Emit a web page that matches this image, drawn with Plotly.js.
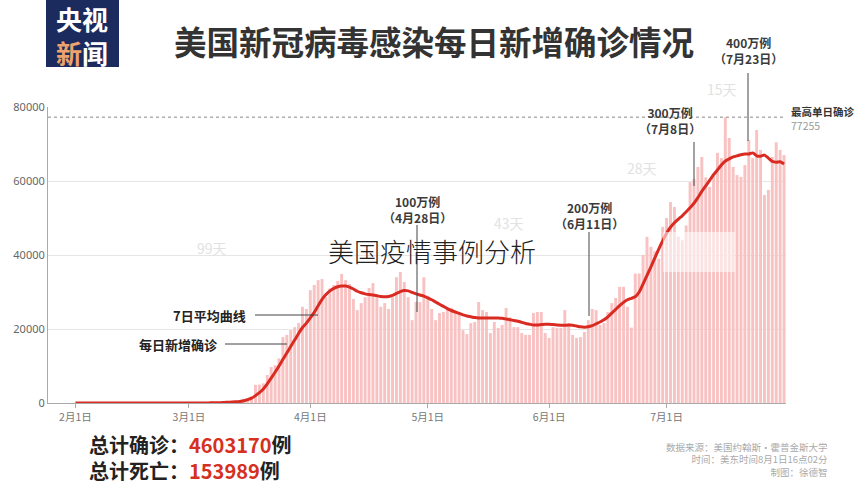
<!DOCTYPE html>
<html>
<head>
<meta charset="utf-8">
<script src="https://cdn.plot.ly/plotly-3.0.1.min.js"></script>
<style>
html,body{margin:0;padding:0;background:#fff;}
#chart{width:863px;height:490px;}
</style>
</head>
<body>
<div id="chart"></div>
<script>
// ---- Data ----
const startDate = "2020-02-01";
// daily new confirmed cases, by month
const casesFeb = [1,0,3,0,1,0,0,0,0,1,1,0,1,0,0,0,0,0,0,0,2,0,0,0,0,3,1,1,7];
const casesMar = [10,20,25,30,60,50,110,100,70,290,330,400,550,600,800,1200,1700,4900,5000,5300,7600,9700,10200,12100,17800,18400,19700,20500,21600,26000,25400];
const casesApr = [30500,31900,33200,33500,28600,31000,31900,33000,34900,33200,32200,28100,25100,27000,28600,31100,32400,28600,26000,27000,25400,28600,34000,35400,32700,28600,22400,27300,27300,34000];
const casesMay = [29000,25400,22400,24300,24600,25700,25700,24600,24600,19700,18600,21600,21900,27300,25100,24600,18900,21900,20300,21100,25700,23200,20500,20500,18900,18400,18400,24300,24600,24600,18900];
const casesJun = [17600,20500,20300,20300,25100,21600,18400,17600,17800,19200,22400,25400,25100,21100,21600,24600,27000,28400,31400,31400,26000,20400,35000,35000,40000,44900,42200,41000,39000,47600];
const casesJul = [50000,54300,53000,45000,44000,48000,59700,60500,63800,66500,61000,58400,61500,67600,66200,77255,71600,63800,61600,61100,64300,71100,66200,73800,68400,56200,57600,66500,70500,68400,67000];
// 7-day average curve, by month
const avgFeb = [0,0,1,1,1,1,0,0,0,0,0,0,0,0,0,0,0,0,0,0,1,1,1,1,1,1,1,2,3];
const avgMar = [5,8,12,17,25,32,45,58,70,150,200,260,320,420,600,900,1300,2000,2800,3800,5200,6700,8300,10000,11800,13500,15300,17000,18800,20400,21600];
const avgApr = [23000,24500,26300,28000,29300,30300,31000,31400,31600,31600,31300,30800,30200,29800,29500,29300,29200,29000,28800,28700,28800,29100,29600,30100,30400,30300,29900,29500,29200,28900];
const avgMay = [28400,27900,27300,26700,26100,25500,25000,24600,24200,23800,23500,23300,23100,23000,23000,23000,23000,23000,23000,22900,22700,22500,22300,22100,21800,21500,21300,21100,21100,21200,21300];
const avgJun = [21300,21200,21100,21000,21000,21100,21000,20800,20600,20500,20600,20900,21400,21900,22500,23300,24300,25300,26300,27200,27900,28300,28700,30000,32200,34500,36800,39200,41600,43800];
const avgJul = [45900,47500,48700,49700,50600,51700,52800,54000,55500,57200,58700,60200,61700,63000,64300,65400,66000,66500,66800,67100,67300,67300,67600,66800,66700,67000,66200,65300,65100,65200,64600];
const maxDaily = 77255;
const tickDates = ["2020-02-01","2020-03-01","2020-04-01","2020-05-01","2020-06-01","2020-07-01"];
const tickLabels = ["2月1日","3月1日","4月1日","5月1日","6月1日","7月1日"];
const yTicks = [0,20000,40000,60000,80000];
const milestoneLabels = ["100万例","200万例","300万例","400万例"];
const milestoneDates = ["（4月28日）","（6月11日）","（7月8日）","（7月23日）"];
const gapLabels = ["99天","43天","28天","15天"];
const totalCases = "4603170";
const totalDeaths = "153989";

// ---- Build ----
const cases = [].concat(casesFeb,casesMar,casesApr,casesMay,casesJun,casesJul);
const avg = [].concat(avgFeb,avgMar,avgApr,avgMay,avgJun,avgJul);
const dates = [];
const d0 = new Date(startDate+"T00:00:00Z");
for (let i=0;i<cases.length;i++){
  const d = new Date(d0.getTime()+i*86400000);
  dates.push(d.toISOString().slice(0,10));
}

const FONT = "'Noto Sans CJK SC','Noto Sans',sans-serif";
const L=48, R=77, T=107, B=87, W=863, H=490;
const PW=W-L-R, PH=H-T-B;
const px = x => (x-L)/PW;
const py = y => (H-B-y)/PH;

function ann(text,x,y,opt){
  return Object.assign({text:text,x:px(x),y:py(y),xref:'paper',yref:'paper',showarrow:false,
    xanchor:'center',yanchor:'middle',font:{family:FONT,size:12,color:'#333'}},opt||{});
}
function vline(x,y0,y1,color){
  return {type:'line',xref:'paper',yref:'paper',x0:px(x),x1:px(x),y0:py(y0),y1:py(y1),line:{color:color||'#444',width:1}};
}
function hline(x0,x1,y,color){
  return {type:'line',xref:'paper',yref:'paper',x0:px(x0),x1:px(x1),y0:py(y),y1:py(y),line:{color:color||'#444',width:1}};
}
function milestone(i,x,y){
  return ann('<b>'+milestoneLabels[i]+'</b><br><b>'+milestoneDates[i]+'</b>',x,y,
    {font:{family:FONT,size:12,color:'#3a3a3a'},borderpad:0});
}

const traces = [
  {type:'bar',x:dates,y:cases,marker:{color:'#f9c2c2',line:{width:0}},hoverinfo:'skip'},
  {type:'scatter',mode:'lines',x:dates,y:avg,line:{color:'#d92b22',width:3,shape:'spline',smoothing:0.6},hoverinfo:'skip'}
];

const shapes = [
  {type:'rect',xref:'paper',yref:'paper',x0:px(128),x1:px(280),y0:py(259),y1:py(251),fillcolor:'#fff',line:{width:0},layer:'below'},
  {type:'line',xref:'paper',yref:'y',x0:0,x1:1,y0:maxDaily,y1:maxDaily,line:{color:'#888',width:1,dash:'dot'}},
  hline(255,318,315), hline(225,287,344),
  vline(417,225,312), vline(589,232,316), vline(694,142,186), vline(748,73,141),
  {type:'rect',xref:'paper',yref:'paper',x0:px(663),x1:px(735),y0:py(272),y1:py(232),fillcolor:'rgba(255,255,255,0.55)',line:{width:0},layer:'above'},
  {type:'rect',xref:'paper',yref:'paper',x0:px(46),x1:px(119),y0:py(67),y1:py(0),fillcolor:'#1c2b5e',line:{width:0}}
];

const annotations = [
  ann('<b>美国新冠病毒感染每日新增确诊情况</b>',434,41,{font:{family:FONT,size:32.5,color:'#333'}}),
  ann("<b>央视</b><br><b><span style='color:#eea36d'>新</span>闻</b>",82,35,{font:{family:FONT,size:26,color:'#fff'},borderpad:0}),
  ann('<b>7日平均曲线</b>',248,315,{xanchor:'right',font:{family:FONT,size:13,color:'#222'}}),
  ann('<b>每日新增确诊</b>',219,344,{xanchor:'right',font:{family:FONT,size:13,color:'#222'}}),
  milestone(0,417,209),
  milestone(1,589,215),
  milestone(2,670,120),
  milestone(3,748,50),
  ann(gapLabels[0],212,248,{font:{family:FONT,size:14,color:'#e2e2e2'}}),
  ann(gapLabels[1],509,223,{font:{family:FONT,size:14,color:'#e2e2e2'}}),
  ann(gapLabels[2],642,168,{font:{family:FONT,size:14,color:'#e2e2e2'}}),
  ann(gapLabels[3],722,89,{font:{family:FONT,size:14,color:'#e2e2e2'}}),
  ann("<b>最高单日确诊</b><br><span style='color:#999'>"+maxDaily+"</span>",790,118,{xanchor:'left',align:'left',font:{family:FONT,size:10.5,color:'#333'},borderpad:0}),
  ann("<b>总计确诊：<span style='color:#d6301f'>"+totalCases+"</span>例</b><br><b>总计死亡：<span style='color:#d6301f'>"+totalDeaths+"</span>例</b>",88,457,
    {xanchor:'left',align:'left',font:{family:FONT,size:20,color:'#222'},borderpad:0}),
  ann('数据来源：美国约翰斯·霍普金斯大学<br>时间：美东时间8月1日16点02分<br>制图：徐德智',829,459,{xanchor:'right',align:'right',font:{family:FONT,size:9.5,color:'#aaa'},borderpad:0})
];

const layout = {
  width:W,height:H,
  margin:{l:L,r:R,t:T,b:B},
  paper_bgcolor:'#fff',plot_bgcolor:'#fff',
  showlegend:false,
  bargap:0.25,
  title:{text:'美国疫情事例分析',x:432/W,xanchor:'center',xref:'container',y:1-253/H,yanchor:'middle',yref:'container',
    font:{family:FONT,size:26,color:'#222',weight:300}},
  xaxis:{type:'date',range:['2020-01-25','2020-07-31 12:00'],tickvals:tickDates,ticktext:tickLabels,
    ticks:'outside',ticklen:4,tickcolor:'#aaa',showgrid:false,showline:true,linecolor:'#aaa',linewidth:1,
    tickfont:{family:FONT,size:10.5,color:'#777'},zeroline:false,fixedrange:true},
  yaxis:{range:[0,80000],tickvals:yTicks,ticktext:yTicks.map(String),showgrid:true,gridcolor:'#e6e6e6',gridwidth:1,
    showline:true,linecolor:'#aaa',linewidth:1,zeroline:false,ticks:'',
    tickfont:{family:"'Noto Sans','DejaVu Sans',sans-serif",size:11,color:'#666'},fixedrange:true},
  shapes:shapes,
  annotations:annotations
};

Plotly.newPlot('chart',traces,layout,{displayModeBar:false,staticPlot:true});
</script>
</body>
</html>
